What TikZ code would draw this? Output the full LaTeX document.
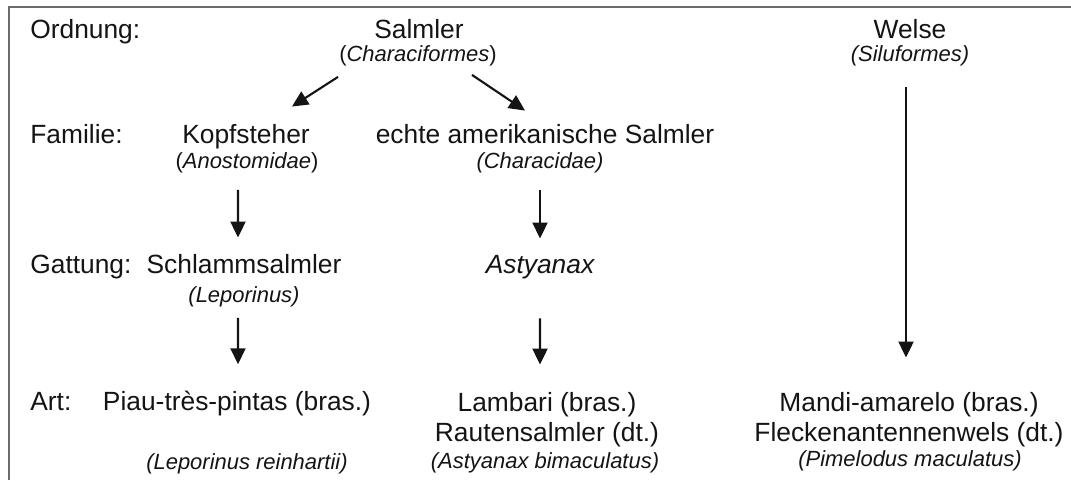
\documentclass[tikz,border=0pt]{standalone}
\usepackage{fontspec}
\setmainfont{Liberation Sans}
\usetikzlibrary{arrows.meta, positioning}
\definecolor{textDark}{gray}{0.08}
\definecolor{frameGray}{gray}{0.42}

\begin{document}
\begin{tikzpicture}[x=0.02cm, y=-0.02cm, >={Triangle[length=0.32cm, width=0.3cm]},
    common/.style={font=\fontsize{15}{18}\selectfont, inner sep=0pt, anchor=base, text=textDark},
    latin/.style={font=\fontsize{12.5}{15}\selectfont\itshape, inner sep=0pt, anchor=base, text=textDark},
    rank/.style={common, anchor=base west},
    link/.style={->, line width=1.2pt, textDark}]
    \useasboundingbox (0,0) rectangle (1071,480);

    % 枠（上と左だけ）
    \draw[frameGray, line width=1.3pt] (9,480) -- (9,7) -- (1071,7);

    % 階級の見出し
    \node[rank] (ordnung) at (30,38)  {Ordnung:};
    \node[rank] (familie) at (30,143) {Familie:};
    \node[rank] (gattung) at (30,273) {Gattung:};
    \node[rank] (art)     at (30,410) {Art:};

    % Ordnung
    \node[common] (salmler) at (419,38) {Salmler};
    \node[latin]  (charLat) at (418,61) {\upshape(\itshape Characiformes\upshape)};
    \node[common] (welse)   at (910,38) {Welse};
    \node[latin]  (silLat)  at (910,61) {(Siluformes)};

    % Familie
    \node[common] (kopf)      at (246,143) {Kopfsteher};
    \node[latin]  (anoLat)    at (247,168) {\upshape(\itshape Anostomidae\upshape)};
    \node[common] (echte)     at (545,143) {echte amerikanische Salmler};
    \node[latin]  (characLat) at (540,168) {(Characidae)};

    % Gattung
    \node[common]           (schlamm)  at (244,273) {Schlammsalmler};
    \node[latin]            (leporLat) at (244,302) {(Leporinus)};
    \node[common, font=\fontsize{15}{18}\selectfont\itshape] (astyanax) at (540,273) {Astyanax};

    % Art
    \node[common] (piau)     at (237,410) {Piau-très-pintas (bras.)};
    \node[latin]  (reinLat)  at (247,469) {(Leporinus reinhartii)};
    \node[common] (lambari)  at (547,411) {Lambari (bras.)};
    \node[common] (rauten)   at (547,441) {Rautensalmler (dt.)};
    \node[latin]  (bimacLat) at (545,468) {(Astyanax bimaculatus)};
    \node[common] (mandi)    at (909,411) {Mandi-amarelo (bras.)};
    \node[common] (flecken)  at (909,441) {Fleckenantennenwels (dt.)};
    \node[latin]  (pimLat)   at (910,466) {(Pimelodus maculatus)};

    % 矢印
    \draw[link] ([xshift=-1.6cm, yshift=-0.22cm]charLat.south) -- ([xshift=0.92cm, yshift=0.34cm]kopf.north);
    \draw[link] ([xshift=1.08cm, yshift=-0.18cm]charLat.south) -- ([xshift=-0.4cm, yshift=0.26cm]echte.north);
    \draw[link] ([xshift=-0.18cm, yshift=-0.34cm]anoLat.south) -- ([xshift=-0.12cm, yshift=0.32cm]schlamm.north);
    \draw[link] ([xshift=-0.12cm, yshift=-0.22cm]leporLat.south) -- ([xshift=0.02cm, yshift=0.52cm]piau.north);
    \draw[link] ([yshift=-0.34cm]characLat.south) -- ([yshift=0.32cm]astyanax.north);
    \draw[link] ([yshift=-0.79cm]astyanax.south) -- ([xshift=-0.14cm, yshift=0.54cm]lambari.north);
    \draw[link] ([xshift=-0.08cm, yshift=-0.43cm]silLat.south) -- ([xshift=-0.06cm, yshift=0.68cm]mandi.north);
\end{tikzpicture}
\end{document}
